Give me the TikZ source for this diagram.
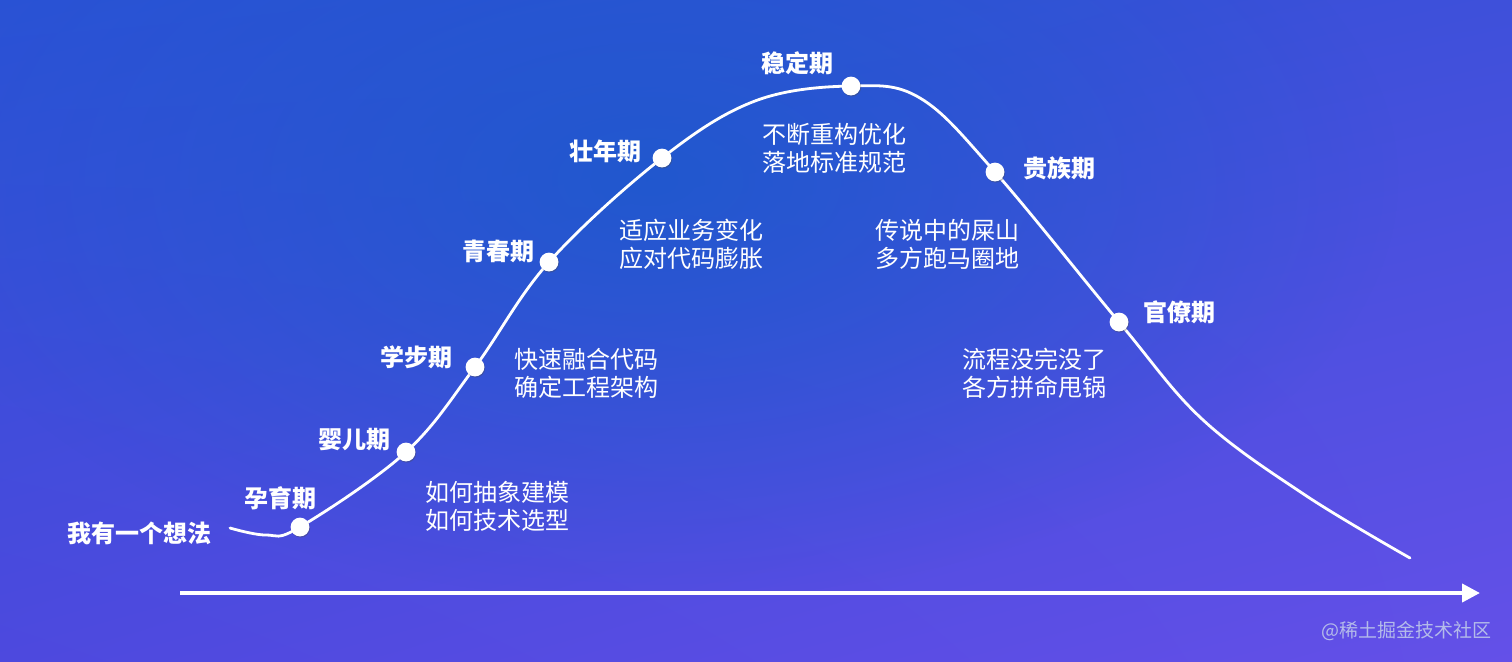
\documentclass[tikz,border=0pt]{standalone}
\usepackage{fontspec}
\setmainfont{Noto Sans CJK SC}
\newfontfamily\cjk{Noto Sans CJK SC}
\usetikzlibrary{arrows.meta,fadings,shadows,shadings}
\definecolor{bgUL}{HTML}{2A52D5}
\definecolor{bgUR}{HTML}{3E50DA}
\definecolor{bgLL}{HTML}{4D49DE}
\definecolor{bgLR}{HTML}{6450E8}
\definecolor{bgMid}{HTML}{1A5ACB}
\definecolor{wmark}{HTML}{B4BBEA}
\tikzfading[name=softspot, inner color=transparent!0, outer color=transparent!100]
\begin{document}
\begin{tikzpicture}[x=0.5pt,y=-0.5pt,
  stage/.style={font=\cjk\bfseries\fontsize{12}{14}\selectfont, text=white, inner sep=0pt},
  desc/.style={font=\cjk\fontsize{12}{14}\selectfont, text=white, align=left, inner sep=0pt, anchor=west},
  dot/.style={circle, fill=white, inner sep=0pt, minimum size=9.4pt,
    drop shadow={shadow xshift=0.4pt, shadow yshift=-0.6pt, opacity=0.35, fill=black!70}},
  curveline/.style={draw=white, line width=1.4pt},
  axisline/.style={draw=white, line width=2pt, -{Triangle[length=9pt,width=9pt]}}
]
\useasboundingbox (0,0) rectangle (1512,661);
\shade[upper left=bgUL, upper right=bgUR, lower left=bgLL, lower right=bgLR] (0,0) rectangle (1512,661);
\fill[bgMid, path fading=softspot, fill opacity=0.8] (650,180) ellipse [x radius=750, y radius=420];

% curve coordinates
\coordinate (s) at (230,528);
\coordinate (m) at (266,535);
\coordinate (p1) at (300,527);
\coordinate (p2) at (406,452);
\coordinate (p3) at (475,367);
\coordinate (p4) at (549,262);
\coordinate (p5) at (662,158);
\coordinate (q1) at (755,101);
\coordinate (p6) at (851,86);
\coordinate (q2) at (920,98);
\coordinate (p7) at (995,172);
\coordinate (p8) at (1119,322);
\coordinate (q3) at (1202,419);
\coordinate (q4) at (1305,495);
\coordinate (e) at (1410,558);

\draw[curveline, line cap=round] plot[smooth, tension=0.6] coordinates {(s) (m) (p1) (p2) (p3) (p4) (p5) (q1) (p6) (q2) (p7) (p8) (q3) (q4) (e)};

\foreach \p in {p1,p2,p3,p4,p5,p6,p7,p8} \node[dot] (d\p) at (\p) {};

% axis
\coordinate (a0) at (180,593);
\coordinate (a1) at (1480,593);
\draw[axisline] (a0) -- (a1);

% stage labels
\node[stage, anchor=east] (l0) at (212,533) {我有一个想法};
\node[stage] (l1) at (280,498) {孕育期};
\node[stage] (l2) at (354,440) {婴儿期};
\node[stage] (l3) at (416,357) {学步期};
\node[stage] (l4) at (498,251) {青春期};
\node[stage] (l5) at (605,151) {壮年期};
\node[stage] (l6) at (797,63) {稳定期};
\node[stage] (l7) at (1059,168) {贵族期};
\node[stage] (l8) at (1179,312) {官僚期};

% descriptions
\node[desc] (t1) at (425,506) {如何抽象建模\\如何技术选型};
\node[desc] (t2) at (514,373) {快速融合代码\\确定工程架构};
\node[desc] (t3) at (619,244) {适应业务变化\\应对代码膨胀};
\node[desc] (t4) at (762,148) {不断重构优化\\落地标准规范};
\node[desc] (t5) at (875,244) {传说中的屎山\\多方跑马圈地};
\node[desc] (t6) at (962,373) {流程没完没了\\各方拼命甩锅};

% watermark
\node[font=\cjk\fontsize{9.5}{11}\selectfont, text=wmark, anchor=east, inner sep=0pt] (wm) at (1492,631) {@稀土掘金技术社区};
\end{tikzpicture}
\end{document}
